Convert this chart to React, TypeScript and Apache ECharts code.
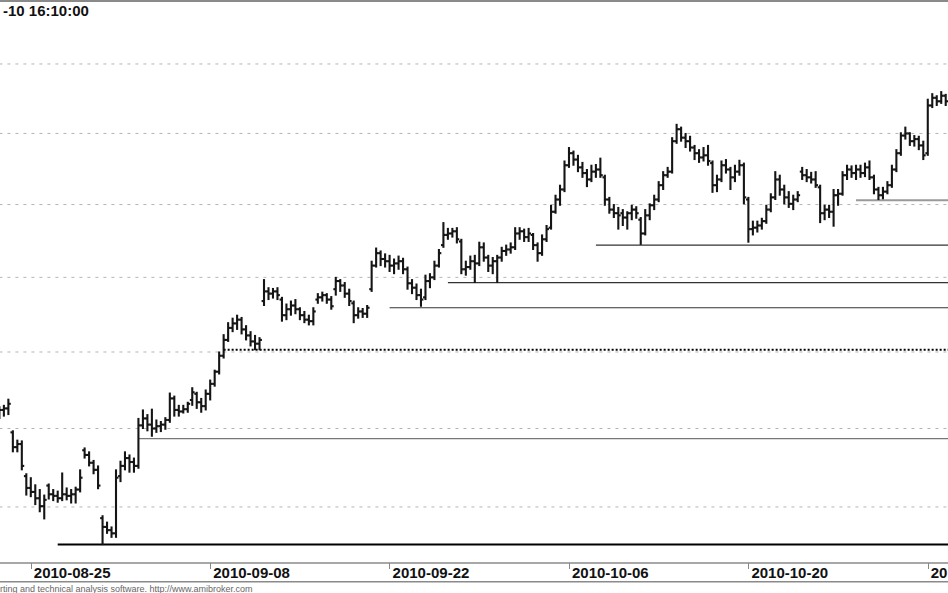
import React, { useEffect, useRef } from "react";
import * as echarts from "echarts";

// ---------- data ----------
const tradingDays = [
  "2010-08-23", "2010-08-24", "2010-08-25", "2010-08-26", "2010-08-27", "2010-08-30", "2010-08-31",
  "2010-09-01", "2010-09-02", "2010-09-03", "2010-09-06", "2010-09-07", "2010-09-08", "2010-09-09",
  "2010-09-10", "2010-09-13", "2010-09-14", "2010-09-15", "2010-09-16", "2010-09-17", "2010-09-20",
  "2010-09-21", "2010-09-22", "2010-09-23", "2010-09-24", "2010-09-27", "2010-09-28", "2010-09-29",
  "2010-09-30", "2010-10-01", "2010-10-04", "2010-10-05", "2010-10-06", "2010-10-07", "2010-10-08",
  "2010-10-11", "2010-10-12", "2010-10-13", "2010-10-14", "2010-10-15", "2010-10-18", "2010-10-19",
  "2010-10-20", "2010-10-21", "2010-10-22", "2010-10-25", "2010-10-26", "2010-10-27", "2010-10-28",
  "2010-10-29", "2010-11-01", "2010-11-02", "2010-11-03", "2010-11-04",
];
const sessionTimes = ["09:00", "11:00", "13:00", "15:00"];
const dateTickLabels = ["2010-08-25", "2010-09-08", "2010-09-22", "2010-10-06", "2010-10-20", "2010-11-03"];
const gridLevels = [38, 39, 40, 41, 42, 43, 44];
const supportPrices = [37.53, 38.87, 40.03, 40.59, 40.93, 41.44, 42.06];
const supportStartBars = [13, 31, 50, 87, 100, 133, 191];
const titleText = "-10 16:10:00";
const footerText = "rting and technical analysis software. http://www.amibroker.com";

// bars: [open, high, low, close]
const barsBeforeAug25 = [
  [39.17, 39.28, 39.13, 39.24], [39.24, 39.30, 39.16, 39.26], [39.26, 39.38, 39.18, 39.32],
  [38.95, 38.97, 38.70, 38.76], [38.76, 38.85, 38.70, 38.80], [38.80, 38.84, 38.47, 38.52],
  [38.39, 38.42, 38.15, 38.24],
];
const barsFromAug25 = [
  [38.24, 38.37, 38.13, 38.19], [38.19, 38.28, 38.03, 38.11], [38.11, 38.22, 37.94, 38.01], [38.01, 38.15, 37.85, 38.09],
  [38.27, 38.29, 38.10, 38.16], [38.16, 38.22, 38.08, 38.14], [38.14, 38.20, 38.06, 38.11], [38.11, 38.43, 38.08, 38.16],
  [38.16, 38.24, 38.09, 38.14], [38.14, 38.22, 38.05, 38.16], [38.16, 38.25, 38.05, 38.22], [38.22, 38.47, 38.19, 38.37],
  [38.72, 38.75, 38.62, 38.66], [38.66, 38.70, 38.52, 38.56], [38.56, 38.59, 38.42, 38.47], [38.47, 38.52, 38.23, 38.27],
  [37.86, 37.89, 37.53, 37.75], [37.75, 37.81, 37.67, 37.71], [37.71, 37.75, 37.62, 37.67], [37.67, 38.47, 37.62, 38.37],
  [38.39, 38.58, 38.32, 38.52], [38.52, 38.70, 38.47, 38.62], [38.62, 38.66, 38.44, 38.57], [38.57, 38.62, 38.44, 38.52],
  [38.52, 39.13, 38.49, 39.04], [39.04, 39.24, 39.00, 39.13], [39.13, 39.18, 38.97, 39.05], [39.05, 39.25, 38.90, 39.00],
  [39.00, 39.11, 38.95, 39.03], [39.03, 39.09, 38.96, 39.05], [39.05, 39.14, 38.99, 39.11], [39.11, 39.46, 39.08, 39.39],
  [39.39, 39.42, 39.16, 39.24], [39.24, 39.30, 39.16, 39.22], [39.22, 39.30, 39.20, 39.25], [39.25, 39.34, 39.21, 39.32],
  [39.37, 39.53, 39.30, 39.47], [39.45, 39.47, 39.26, 39.34], [39.34, 39.39, 39.21, 39.29], [39.29, 39.50, 39.24, 39.45],
];
const barsFromSep08 = [
  [39.45, 39.63, 39.37, 39.58], [39.58, 39.76, 39.55, 39.74], [39.74, 40.00, 39.71, 39.95], [39.95, 40.23, 39.92, 40.16],
  [40.16, 40.39, 40.14, 40.32], [40.32, 40.45, 40.27, 40.38], [40.38, 40.49, 40.30, 40.43], [40.43, 40.46, 40.24, 40.30],
  [40.30, 40.35, 40.16, 40.22], [40.22, 40.27, 40.08, 40.14], [40.14, 40.22, 40.03, 40.11], [40.11, 40.19, 40.03, 40.16],
  [40.68, 40.97, 40.62, 40.81], [40.81, 40.86, 40.70, 40.78], [40.78, 40.85, 40.72, 40.81], [40.81, 40.86, 40.70, 40.76],
  [40.70, 40.73, 40.41, 40.49], [40.49, 40.64, 40.43, 40.57], [40.57, 40.68, 40.49, 40.62], [40.62, 40.70, 40.51, 40.57],
  [40.57, 40.59, 40.43, 40.49], [40.49, 40.54, 40.39, 40.43], [40.43, 40.49, 40.36, 40.41], [40.41, 40.59, 40.36, 40.54],
  [40.70, 40.78, 40.65, 40.73], [40.73, 40.80, 40.68, 40.76], [40.76, 40.78, 40.65, 40.70], [40.70, 40.74, 40.57, 40.61],
  [40.84, 41.00, 40.76, 40.95], [40.95, 40.97, 40.81, 40.89], [40.89, 40.93, 40.73, 40.78], [40.78, 40.84, 40.62, 40.68],
  [40.65, 40.68, 40.39, 40.49], [40.49, 40.59, 40.45, 40.54], [40.54, 40.58, 40.46, 40.51], [40.51, 40.62, 40.46, 40.59],
  [40.84, 41.22, 40.81, 41.16], [41.16, 41.40, 41.14, 41.33], [41.33, 41.36, 41.16, 41.25], [41.25, 41.32, 41.14, 41.22],
];
const barsFromSep22 = [
  [41.22, 41.30, 41.08, 41.16], [41.16, 41.25, 41.05, 41.19], [41.19, 41.29, 41.11, 41.22], [41.22, 41.26, 41.05, 41.11],
  [41.11, 41.14, 40.84, 40.92], [40.92, 40.97, 40.78, 40.86], [40.86, 40.91, 40.70, 40.76], [40.76, 40.84, 40.61, 40.70],
  [40.73, 41.03, 40.70, 40.95], [40.95, 41.05, 40.86, 41.00], [41.00, 41.22, 40.97, 41.16], [41.16, 41.38, 41.14, 41.33],
  [41.44, 41.75, 41.41, 41.58], [41.58, 41.67, 41.52, 41.60], [41.60, 41.67, 41.55, 41.63], [41.63, 41.68, 41.47, 41.52],
  [41.49, 41.52, 41.05, 41.11], [41.11, 41.22, 41.03, 41.14], [41.14, 41.29, 41.11, 41.22], [41.22, 41.30, 40.93, 41.19],
  [41.19, 41.48, 41.16, 41.41], [41.41, 41.47, 41.22, 41.27], [41.27, 41.30, 41.08, 41.16], [41.16, 41.27, 41.05, 41.22],
  [41.22, 41.30, 40.93, 41.27], [41.27, 41.41, 41.22, 41.36], [41.36, 41.44, 41.30, 41.38], [41.38, 41.47, 41.33, 41.41],
  [41.41, 41.68, 41.38, 41.60], [41.60, 41.68, 41.52, 41.63], [41.63, 41.66, 41.49, 41.55], [41.55, 41.67, 41.49, 41.60],
  [41.58, 41.60, 41.38, 41.44], [41.44, 41.47, 41.22, 41.33], [41.33, 41.58, 41.30, 41.52], [41.52, 41.71, 41.49, 41.66],
  [41.68, 41.99, 41.66, 41.90], [41.90, 42.13, 41.88, 42.07], [42.07, 42.27, 41.99, 42.21], [42.21, 42.61, 42.18, 42.55],
];
const barsFromOct06 = [
  [42.55, 42.80, 42.52, 42.72], [42.72, 42.75, 42.55, 42.63], [42.63, 42.69, 42.46, 42.52], [42.52, 42.59, 42.38, 42.44],
  [42.44, 42.49, 42.25, 42.35], [42.35, 42.55, 42.32, 42.46], [42.46, 42.56, 42.38, 42.49], [42.49, 42.65, 42.38, 42.41],
  [42.38, 42.41, 41.99, 42.07], [42.07, 42.10, 41.88, 41.93], [41.93, 42.00, 41.82, 41.88], [41.88, 41.96, 41.66, 41.85],
  [41.88, 41.93, 41.71, 41.82], [41.82, 41.90, 41.66, 41.88], [41.88, 41.99, 41.79, 41.93], [41.93, 41.97, 41.81, 41.88],
  [41.79, 41.82, 41.45, 41.60], [41.60, 41.93, 41.58, 41.85], [41.85, 42.01, 41.79, 41.99], [41.99, 42.13, 41.93, 42.07],
  [42.07, 42.32, 42.04, 42.27], [42.27, 42.46, 42.21, 42.41], [42.41, 42.52, 42.38, 42.46], [42.46, 42.94, 42.44, 42.89],
  [42.89, 43.13, 42.86, 43.06], [43.06, 43.09, 42.89, 42.94], [42.94, 43.00, 42.80, 42.89], [42.89, 42.96, 42.75, 42.80],
  [42.80, 42.83, 42.63, 42.72], [42.72, 42.77, 42.59, 42.66], [42.66, 42.80, 42.61, 42.69], [42.69, 42.83, 42.55, 42.61],
  [42.58, 42.61, 42.17, 42.27], [42.27, 42.41, 42.18, 42.35], [42.35, 42.61, 42.32, 42.55], [42.55, 42.63, 42.44, 42.49],
  [42.49, 42.52, 42.21, 42.38], [42.38, 42.55, 42.32, 42.46], [42.46, 42.62, 42.41, 42.55], [42.55, 42.58, 42.01, 42.10],
];
const barsFromOct20 = [
  [42.07, 42.10, 41.48, 41.66], [41.66, 41.77, 41.58, 41.68], [41.68, 41.77, 41.62, 41.71], [41.71, 41.81, 41.66, 41.77],
  [41.77, 41.99, 41.74, 41.93], [41.93, 42.15, 41.90, 42.10], [42.10, 42.46, 42.07, 42.35], [42.35, 42.41, 42.13, 42.21],
  [42.21, 42.27, 42.01, 42.10], [42.10, 42.18, 41.96, 42.01], [42.01, 42.13, 41.93, 42.07], [42.07, 42.18, 42.04, 42.13],
  [42.46, 42.52, 42.35, 42.41], [42.41, 42.49, 42.32, 42.38], [42.38, 42.45, 42.30, 42.35], [42.35, 42.46, 42.24, 42.27],
  [42.24, 42.27, 41.75, 41.88], [41.88, 41.99, 41.79, 41.93], [41.93, 41.99, 41.82, 41.90], [41.90, 42.21, 41.70, 42.13],
  [42.13, 42.21, 41.99, 42.15], [42.15, 42.46, 42.13, 42.41], [42.41, 42.55, 42.35, 42.49], [42.49, 42.54, 42.38, 42.44],
  [42.44, 42.55, 42.35, 42.49], [42.49, 42.55, 42.38, 42.44], [42.44, 42.58, 42.39, 42.52], [42.52, 42.61, 42.35, 42.38],
  [42.38, 42.41, 42.15, 42.21], [42.21, 42.24, 42.07, 42.13], [42.13, 42.24, 42.08, 42.18], [42.18, 42.32, 42.15, 42.27],
  [42.27, 42.55, 42.24, 42.49], [42.49, 42.77, 42.46, 42.72], [42.72, 43.01, 42.69, 42.97], [42.97, 43.09, 42.92, 43.00],
  [43.00, 43.01, 42.83, 42.89], [42.89, 42.97, 42.82, 42.92], [42.92, 42.96, 42.77, 42.83], [42.83, 42.89, 42.63, 42.69],
];
const barsFromNov03 = [
  [42.72, 43.49, 42.69, 43.40], [43.40, 43.57, 43.37, 43.51], [43.51, 43.54, 43.40, 43.46], [43.46, 43.60, 43.43, 43.54],
  [43.54, 43.56, 43.40, 43.46],
];

const FONT = '"Liberation Sans", Arial, Helvetica, sans-serif';

export default function App() {
  const ref = useRef<HTMLDivElement>(null);

  useEffect(() => {
    if (!ref.current) return;
    const chart = echarts.init(ref.current, null, { renderer: "svg" });

    const allBars = [
      ...barsBeforeAug25, ...barsFromAug25, ...barsFromSep08, ...barsFromSep22,
      ...barsFromOct06, ...barsFromOct20, ...barsFromNov03,
    ];
    const categories = tradingDays
      .flatMap((d) => sessionTimes.map((t) => `${d} ${t}`))
      .slice(1, allBars.length + 2);

    const isDateTick = (_idx: number, val: string) =>
      dateTickLabels.includes(String(val).slice(0, 10)) && String(val).endsWith(sessionTimes[0]);

    const supportStyles = [
      { stroke: "#000", lineWidth: 2 },
      { stroke: "#777", lineWidth: 1.4 },
      { stroke: "#000", lineWidth: 2, lineDash: [2, 2] },
      { stroke: "#333", lineWidth: 1.2 },
      { stroke: "#333", lineWidth: 1.2 },
      { stroke: "#333", lineWidth: 1.3 },
      { stroke: "#9a9a9a", lineWidth: 2 },
    ];

    const option: any = {
      animation: false,
      backgroundColor: "#fff",
      grid: { left: -0.6, right: -2.2, top: 3, bottom: 30, containLabel: false, outerBoundsMode: "none" },
      xAxis: {
        type: "category",
        data: categories,
        boundaryGap: false,
        axisLine: { show: true, lineStyle: { color: "#8a8a8a", width: 1.5 } },
        axisTick: { show: true, interval: isDateTick, length: 6, lineStyle: { color: "#888", width: 1 } },
        axisLabel: {
          show: true,
          interval: isDateTick,
          formatter: (v: string) => String(v).slice(0, 10),
          align: "left",
          verticalAlign: "middle",
          margin: 9.5,
          padding: [0, 0, 0, 3],
          color: "#111",
          fontFamily: FONT,
          fontWeight: "bold",
          fontSize: 15,
          hideOverlap: false,
        },
        splitLine: { show: false },
      },
      yAxis: {
        type: "log",
        min: 37.302,
        max: 44.897,
        axisLine: { show: false },
        axisTick: { show: false },
        axisLabel: { show: false },
        splitLine: { show: false },
      },
      graphic: [
        { type: "rect", shape: { x: 0, y: 0, width: 948, height: 2 }, style: { fill: "#8a8a8a" }, silent: true },
        { type: "rect", shape: { x: 0, y: 581, width: 948, height: 1.5 }, style: { fill: "#8a8a8a" }, silent: true },
        {
          type: "text", x: 3, y: 10, silent: true,
          style: { text: titleText, fill: "#111", font: `bold 15px ${FONT}`, verticalAlign: "middle", align: "left" },
        },
        {
          type: "text", x: 0, y: 588.5, silent: true,
          style: { text: footerText, fill: "#666", font: `9px ${FONT}`, verticalAlign: "middle", align: "left" },
        },
      ],
      series: [
        {
          type: "custom",
          name: "grid",
          silent: true,
          z: 1,
          data: gridLevels.map((v) => [0, v]),
          encode: { x: 0, y: 1 },
          renderItem: (params: any, api: any) => {
            const y = api.coord([0, api.value(1)])[1];
            const cs = params.coordSys;
            return {
              type: "line",
              shape: { x1: cs.x, y1: y, x2: cs.x + cs.width, y2: y },
              style: { stroke: "#b4b4b4", lineWidth: 1, lineDash: [3, 5] },
            };
          },
        },
        {
          type: "custom",
          name: "support",
          silent: true,
          z: 2,
          data: supportPrices.map((p, i) => [supportStartBars[i], p]),
          encode: { x: 0, y: 1 },
          renderItem: (params: any, api: any) => {
            const pt = api.coord([api.value(0), api.value(1)]);
            const cs = params.coordSys;
            return {
              type: "line",
              shape: { x1: pt[0], y1: pt[1], x2: cs.x + cs.width, y2: pt[1] },
              style: supportStyles[params.dataIndex],
            };
          },
        },
        {
          type: "custom",
          name: "price",
          silent: true,
          z: 3,
          data: allBars.map((b, i) => [i, b[0], b[1], b[2], b[3]]),
          encode: { x: 0, y: [1, 2, 3, 4] },
          renderItem: (_params: any, api: any) => {
            const i = api.value(0);
            const o = api.coord([i, api.value(1)]);
            const h = api.coord([i, api.value(2)]);
            const l = api.coord([i, api.value(3)]);
            const c = api.coord([i, api.value(4)]);
            const style = { stroke: "#151515", lineWidth: 2.1 };
            return {
              type: "group",
              children: [
                { type: "line", shape: { x1: h[0], y1: h[1] - 0.5, x2: l[0], y2: l[1] + 0.5 }, style },
                { type: "line", shape: { x1: o[0] - 2.4, y1: o[1], x2: o[0], y2: o[1] }, style },
                { type: "line", shape: { x1: c[0], y1: c[1], x2: c[0] + 2.4, y2: c[1] }, style },
              ],
            };
          },
        },
      ],
    };

    chart.setOption(option);
    return () => chart.dispose();
  }, []);

  return (
    <div
      ref={ref}
      style={{ position: "absolute", left: 0, top: 0, width: 948, height: 593, background: "#fff" }}
    />
  );
}
